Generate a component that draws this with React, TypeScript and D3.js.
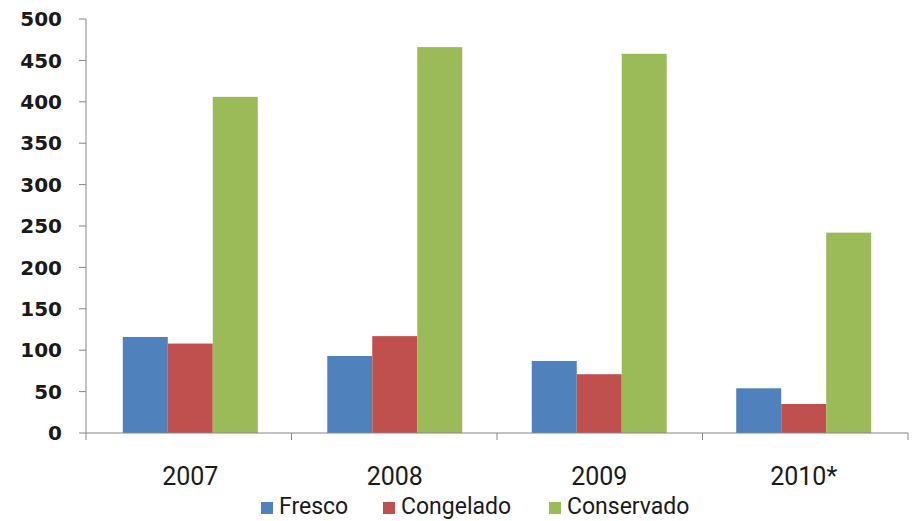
import React from 'react';
import * as d3 from 'd3';

const years = ['2007', '2008', '2009', '2010*'];
const seriesNames = ['Fresco', 'Congelado', 'Conservado'];
const fresco = [116, 93, 87, 54];
const congelado = [108, 117, 71, 35];
const conservado = [406, 466, 458, 242];
const yTicks = [0, 50, 100, 150, 200, 250, 300, 350, 400, 450, 500];
const colors = ['#4F81BD', '#C0504D', '#9BBB59'];

const W = 917;
const H = 521;
const margin = { top: 19, right: 9, bottom: 88, left: 86 };

const App: React.FC = () => {
  const values = [fresco, congelado, conservado];
  const plotRight = W - margin.right;
  const plotBottom = H - margin.bottom;

  const x0 = d3
    .scaleBand()
    .domain(years)
    .range([margin.left, plotRight])
    .paddingInner(0.34)
    .paddingOuter(0.18);

  const x1 = d3
    .scaleBand()
    .domain(seriesNames)
    .range([0, x0.bandwidth()]);

  // category boundaries for the x-axis ticks
  const xCat = d3.scaleBand().domain(years).range([margin.left, plotRight]);
  const boundaries = [...years.map(y => xCat(y) || 0), plotRight];

  const y = d3.scaleLinear().domain([0, 500]).range([plotBottom, margin.top]);

  const axisColor = '#868686';

  // legend layout: square, gap, label, spacing
  const legendWidths = [68, 112, 130];
  const legendX: number[] = [];
  let lx = 261;
  legendWidths.forEach(w => {
    legendX.push(lx);
    lx += 12 + 8 + w + 34;
  });

  return (
    <svg
      width={W}
      height={H}
      style={{ position: 'absolute', left: 0, top: 0, background: '#fff' }}
    >
      {/* bars */}
      {seriesNames.map((s, si) =>
        years.map((yr, i) => (
          <rect
            key={`${s}-${yr}`}
            x={(x0(yr) || 0) + (x1(s) || 0)}
            y={y(values[si][i])}
            width={x1.bandwidth()}
            height={plotBottom - y(values[si][i])}
            fill={colors[si]}
          />
        ))
      )}

      {/* y axis */}
      <line x1={margin.left} x2={margin.left} y1={margin.top} y2={plotBottom} stroke={axisColor} />
      {yTicks.map(t => (
        <g key={t}>
          <line x1={margin.left - 7} x2={margin.left} y1={y(t)} y2={y(t)} stroke={axisColor} />
          <text
            x={62}
            y={y(t)}
            dy="0.36em"
            textAnchor="end"
            fontFamily="'DejaVu Sans', sans-serif"
            fontWeight="bold"
            fontSize={20}
            fill="#1a1a1a"
          >
            {t}
          </text>
        </g>
      ))}

      {/* x axis */}
      <line x1={margin.left} x2={plotRight} y1={plotBottom} y2={plotBottom} stroke={axisColor} />
      {boundaries.map((b, i) => (
        <line key={i} x1={b} x2={b} y1={plotBottom} y2={plotBottom + 7} stroke={axisColor} />
      ))}
      {years.map(yr => (
        <text
          key={yr}
          x={(x0(yr) || 0) + x0.bandwidth() / 2}
          y={485}
          textAnchor="middle"
          fontFamily="Roboto, sans-serif"
          fontSize={25}
          fill="#1a1a1a"
        >
          {yr}
        </text>
      ))}

      {/* legend */}
      {seriesNames.map((s, si) => (
        <g key={s}>
          <rect x={legendX[si]} y={502} width={12} height={12} fill={colors[si]} />
          <text
            x={legendX[si] + 18}
            y={514}
            fontFamily="Roboto, sans-serif"
            fontSize={23}
            fill="#1a1a1a"
          >
            {s}
          </text>
        </g>
      ))}
    </svg>
  );
};

export default App;
